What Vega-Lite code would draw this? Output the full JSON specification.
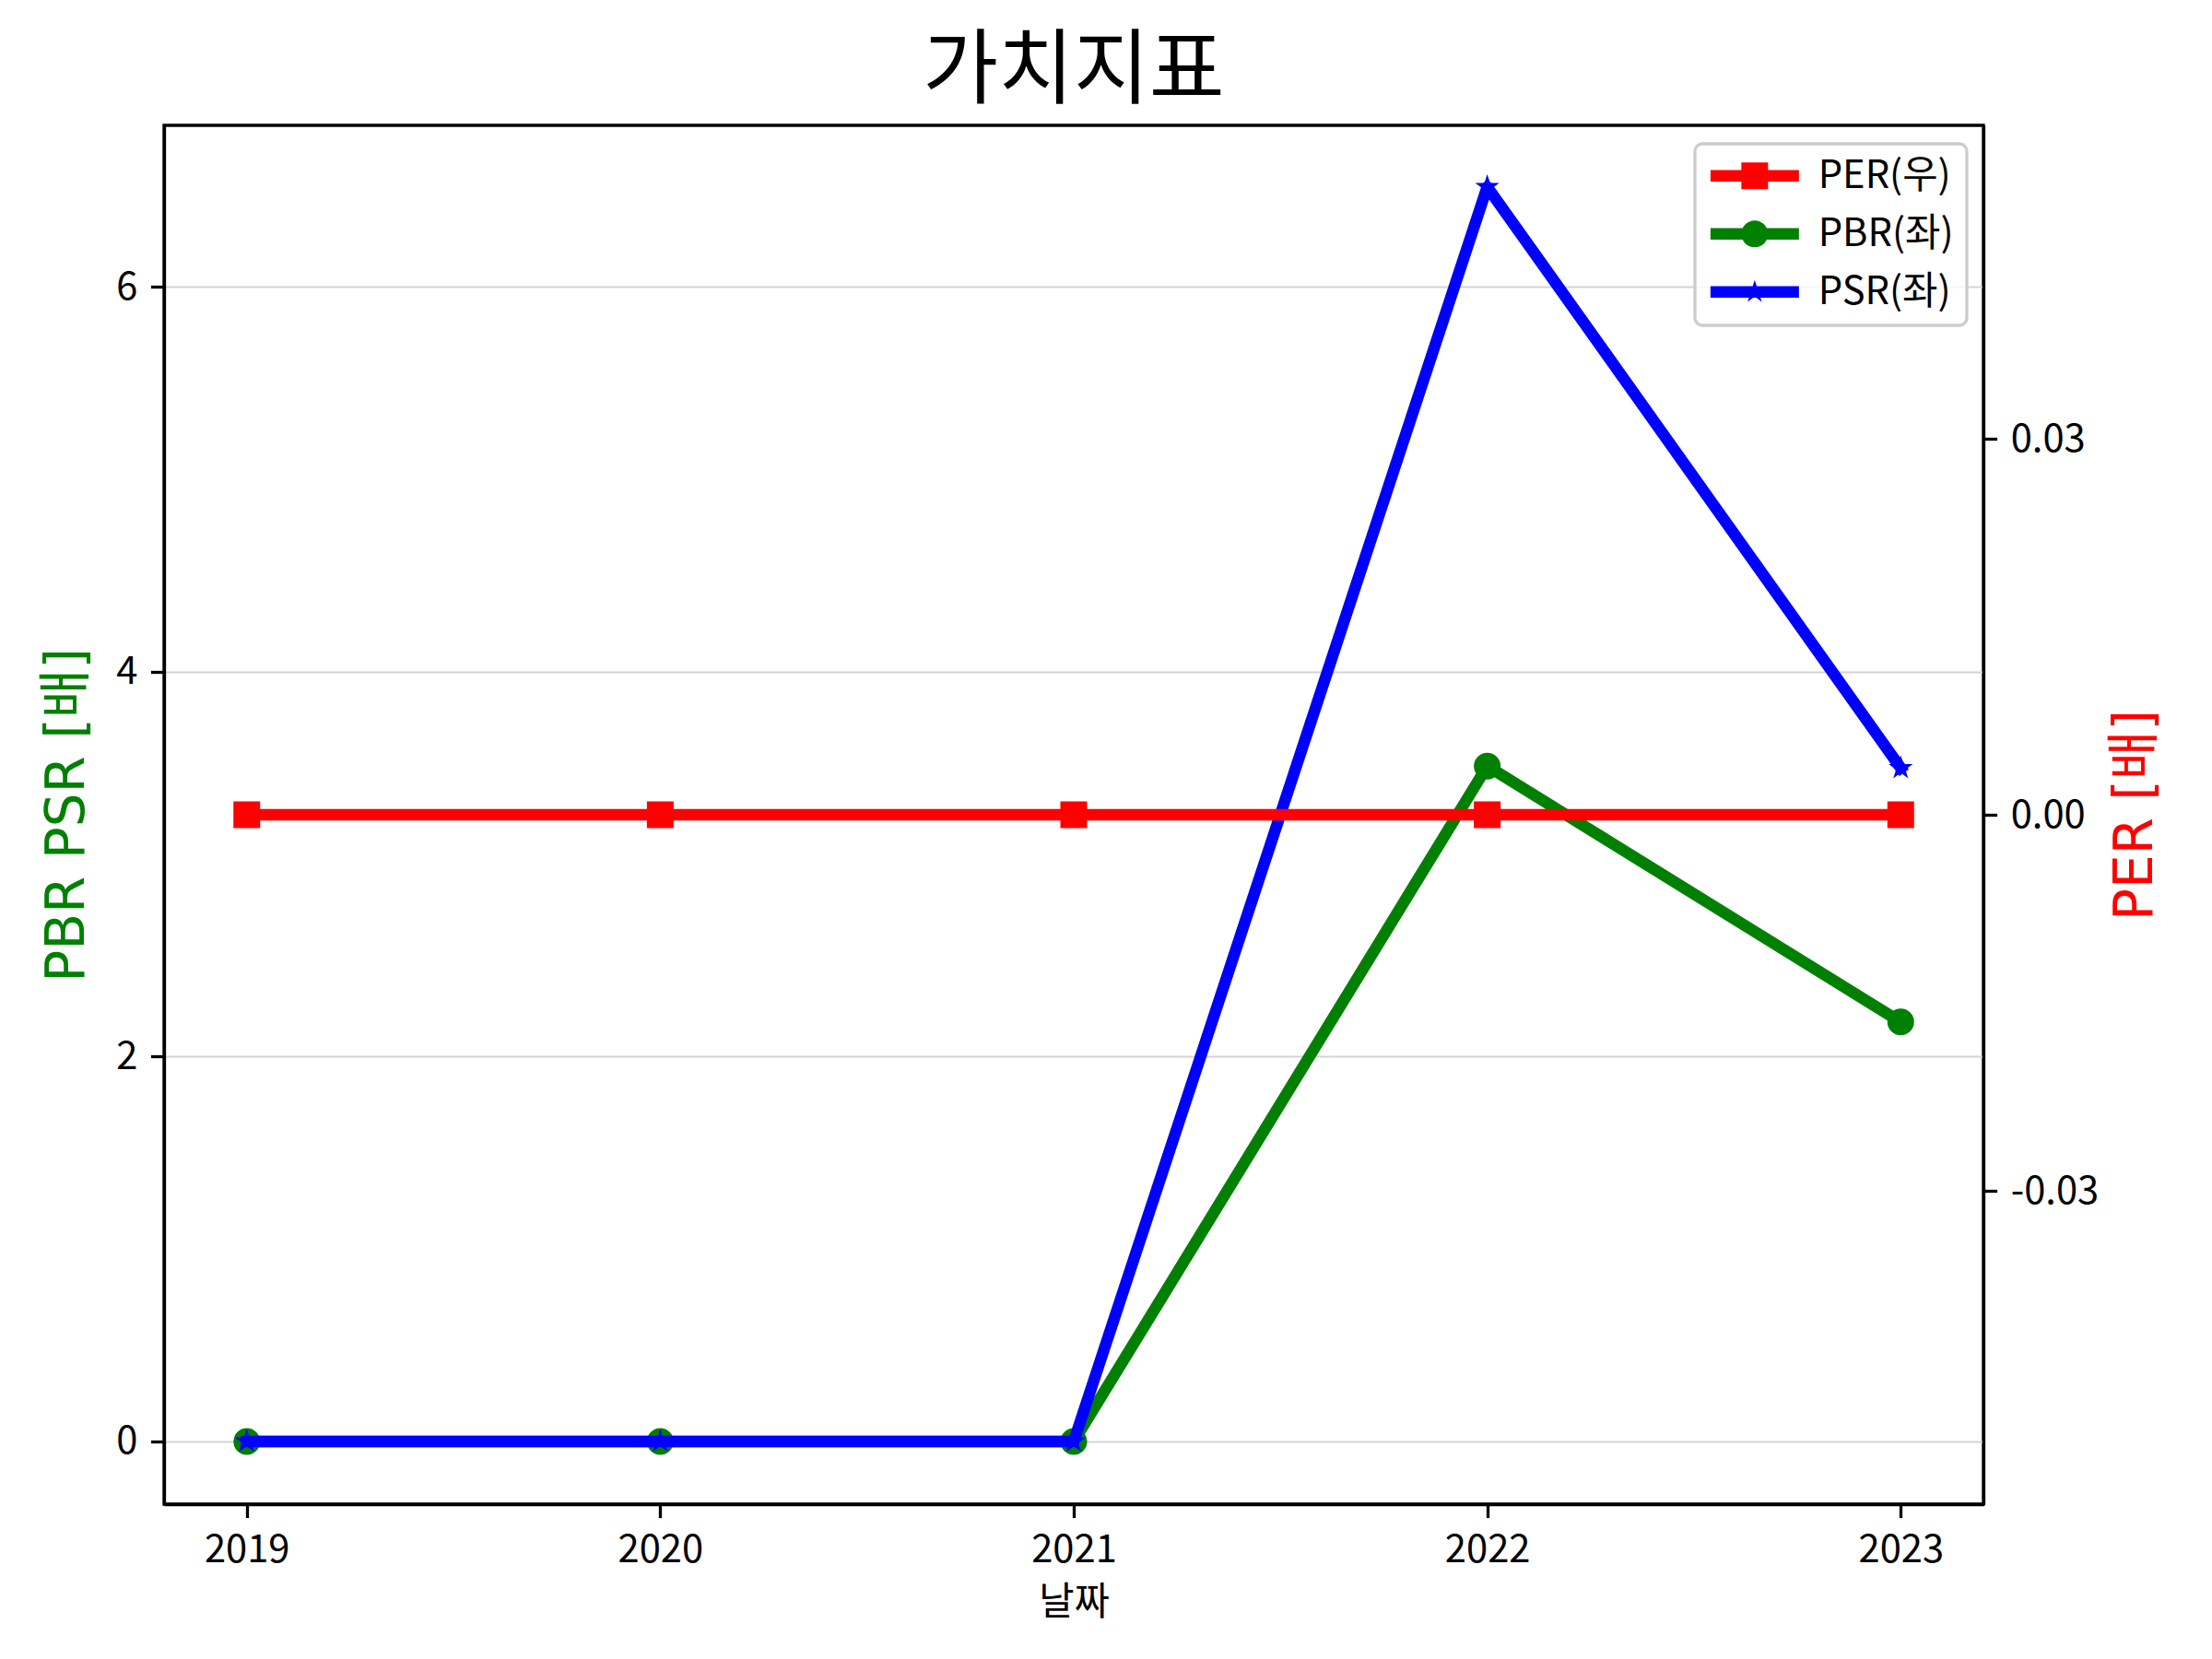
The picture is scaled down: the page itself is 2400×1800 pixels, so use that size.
{
  "$schema": "https://vega.github.io/schema/vega-lite/v6.json",
  "autosize": {"type": "none"},
  "width": 1974,
  "height": 1496,
  "padding": {"left": 178, "top": 136, "right": 248, "bottom": 168},
  "background": "white",
  "title": {
    "text": "가치지표",
    "font": "Noto Sans CJK KR",
    "fontSize": 89,
    "fontWeight": "normal",
    "color": "black",
    "anchor": "middle",
    "frame": "group",
    "offset": 12
  },
  "config": {
    "font": "Noto Sans CJK KR",
    "view": {"stroke": "black", "strokeWidth": 3.3},
    "axis": {
      "domainColor": "black",
      "domainWidth": 3.3,
      "tickColor": "black",
      "tickWidth": 3.3,
      "tickSize": 14.6,
      "labelPadding": 14.6,
      "labelFontSize": 41.7,
      "labelColor": "black",
      "titleFontWeight": "normal",
      "titleColor": "black"
    }
  },
  "data": {
    "values": [
      {"year": 2019, "series": "PER(우)", "value": 0},
      {"year": 2020, "series": "PER(우)", "value": 0},
      {"year": 2021, "series": "PER(우)", "value": 0},
      {"year": 2022, "series": "PER(우)", "value": 0},
      {"year": 2023, "series": "PER(우)", "value": 0},
      {"year": 2019, "series": "PBR(좌)", "value": 0},
      {"year": 2020, "series": "PBR(좌)", "value": 0},
      {"year": 2021, "series": "PBR(좌)", "value": 0},
      {"year": 2022, "series": "PBR(좌)", "value": 3.51},
      {"year": 2023, "series": "PBR(좌)", "value": 2.18},
      {"year": 2019, "series": "PSR(좌)", "value": 0},
      {"year": 2020, "series": "PSR(좌)", "value": 0},
      {"year": 2021, "series": "PSR(좌)", "value": 0},
      {"year": 2022, "series": "PSR(좌)", "value": 6.52},
      {"year": 2023, "series": "PSR(좌)", "value": 3.5}
    ]
  },
  "encoding": {
    "x": {
      "field": "year",
      "type": "quantitative",
      "scale": {"domain": [2018.8, 2023.2], "nice": false, "zero": false},
      "axis": {
        "values": [2019, 2020, 2021, 2022, 2023],
        "format": "d",
        "grid": false,
        "title": "날짜",
        "titleFontSize": 41.7,
        "titlePadding": 16
      }
    },
    "color": {
      "field": "series",
      "type": "nominal",
      "scale": {"domain": ["PER(우)", "PBR(좌)", "PSR(좌)"], "range": ["#ff0000", "#008000", "#0000ff"]},
      "legend": {
        "title": null,
        "orient": "none",
        "legendX": 1661,
        "legendY": 20,
        "padding": 14,
        "fillColor": "rgba(255,255,255,0.8)",
        "strokeColor": "#cccccc",
        "cornerRadius": 8,
        "labelFontSize": 41.7,
        "labelColor": "black",
        "symbolSize": 841,
        "symbolOffset": 30,
        "labelOffset": 48,
        "rowPadding": 20,
        "symbolStrokeWidth": 0,
        "encode": {
          "legend": {"update": {"strokeWidth": {"value": 3.3}}},
          "symbols": {
            "update": {
              "shape": {"signal": "datum.value === 'PER(우)' ? 'M-3.31,-0.43H3.31V0.43H-3.31ZM-1,-1H1V1H-1Z' : datum.value === 'PBR(좌)' ? 'M-3.31,-0.43H3.31V0.43H-3.31ZM1,0A1,1,0,1,1,-1,0A1,1,0,1,1,1,0Z' : 'M-3.31,-0.43H3.31V0.43H-3.31ZM0,-0.9L0.202,-0.278L0.856,-0.278L0.327,0.106L0.529,0.728L0,0.344L-0.529,0.728L-0.327,0.106L-0.856,-0.278L-0.202,-0.278Z'"},
              "fill": {"signal": "datum.value === 'PER(우)' ? '#ff0000' : datum.value === 'PBR(좌)' ? '#008000' : '#0000ff'"},
              "stroke": {"value": "transparent"},
              "opacity": {"value": 1}
            }
          }
        }
      }
    }
  },
  "layer": [
    {
      "encoding": {
        "y": {
          "field": "value",
          "type": "quantitative",
          "scale": {"domain": [-0.326, 6.84], "nice": false, "zero": false},
          "axis": {
            "values": [0, 2, 4, 6],
            "orient": "left",
            "grid": true,
            "gridColor": "#d3d3d3",
            "gridWidth": 2,
            "title": "PBR PSR [배]",
            "titleFont": "DejaVu Sans, Noto Sans CJK KR",
            "titleFontSize": 58,
            "titleColor": "#008000",
            "titlePadding": 23
          }
        }
      },
      "layer": [
        {
          "transform": [{"filter": "datum.series === 'PBR(좌)'"}],
          "mark": {"type": "line", "strokeWidth": 12.5, "strokeJoin": "round", "strokeCap": "square"}
        },
        {
          "transform": [{"filter": "datum.series === 'PBR(좌)'"}],
          "mark": {"type": "point", "filled": true, "shape": "circle", "size": 841, "opacity": 1}
        },
        {
          "transform": [{"filter": "datum.series === 'PSR(좌)'"}],
          "mark": {"type": "line", "strokeWidth": 12.5, "strokeJoin": "round", "strokeCap": "square"}
        },
        {
          "transform": [{"filter": "datum.series === 'PSR(좌)'"}],
          "mark": {"type": "point", "filled": true, "size": 841, "opacity": 1,
            "shape": "M0,-0.95L0.213,-0.294L0.903,-0.294L0.345,0.112L0.559,0.769L0,0.363L-0.559,0.769L-0.345,0.112L-0.903,-0.294L-0.213,-0.294Z"}
        }
      ]
    },
    {
      "transform": [{"filter": "datum.series === 'PER(우)'"}],
      "encoding": {
        "y": {
          "field": "value",
          "type": "quantitative",
          "scale": {"domain": [-0.055, 0.055], "nice": false, "zero": false},
          "axis": {
            "values": [-0.03, 0, 0.03],
            "labelExpr": "datum.value < 0 ? '-' + format(-datum.value, '.2f') : format(datum.value, '.2f')",
            "orient": "right",
            "grid": false,
            "title": "PER [배]",
            "titleFont": "DejaVu Sans, Noto Sans CJK KR",
            "titleFontSize": 58,
            "titleColor": "#ff0000",
            "titleAngle": 270,
            "titlePadding": 70
          }
        }
      },
      "layer": [
        {"mark": {"type": "line", "strokeWidth": 12.5, "strokeJoin": "round", "strokeCap": "square"}},
        {"mark": {"type": "point", "filled": true, "shape": "square", "size": 841, "opacity": 1}}
      ]
    }
  ],
  "resolve": {"scale": {"y": "independent"}, "axis": {"y": "independent"}}
}
